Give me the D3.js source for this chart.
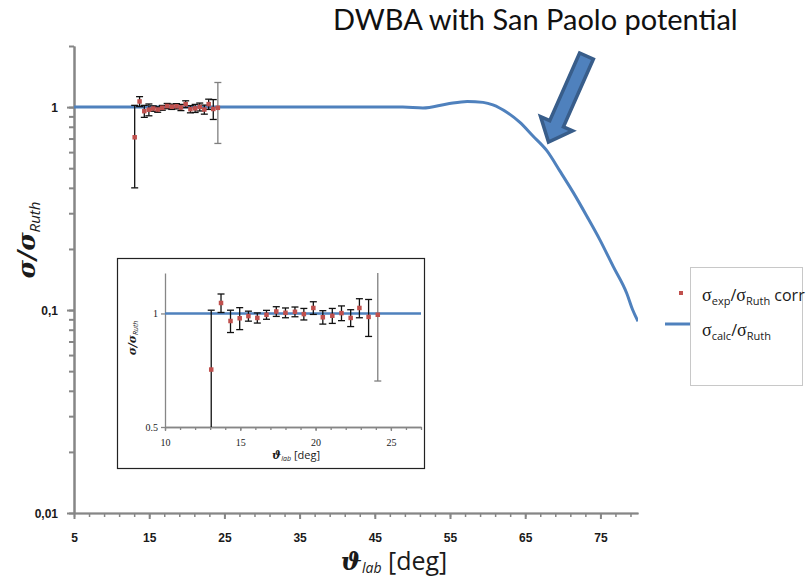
<!DOCTYPE html>
<html>
<head>
<meta charset="utf-8">
<script src="https://cdn.jsdelivr.net/npm/d3@7"></script>
<style>
  body { margin: 0; background: #fff; }
  svg { display: block; }
</style>
</head>
<body>
<svg id="chart" width="809" height="580"></svg>
<script>
// Measured cross-section ratio (lab angle in degrees, ratio, absolute error)
const expTheta = [13.07, 13.72, 14.35, 14.96, 15.54, 16.13, 16.74, 17.39, 18.0, 18.63, 19.22, 19.85, 20.48, 21.11, 21.72, 22.33, 22.91, 23.52, 24.13];
const expRatio = [0.71, 1.066, 0.955, 0.971, 0.984, 0.973, 0.992, 1.012, 1.004, 1.01, 0.996, 1.034, 0.977, 0.986, 1.002, 0.973, 1.034, 0.979, 0.992];
const expError = [0.31, 0.06, 0.065, 0.065, 0.03, 0.03, 0.027, 0.03, 0.03, 0.03, 0.035, 0.04, 0.04, 0.045, 0.045, 0.05, 0.06, 0.11, 0.33];

// DWBA calculation (San Paolo potential)
const calcTheta = [5, 10, 20, 30, 40, 43, 48.7, 51.4, 54.6, 57.3, 59.4, 60.7, 62.6, 64.3, 66.0, 67.9, 69.6, 71.4, 73.2, 74.9, 76.7, 78.5, 79.3, 80];
const calcRatio = [1, 1, 1, 1, 1, 1.0, 1.0, 0.989, 1.035, 1.067, 1.055, 1.026, 0.941, 0.84, 0.722, 0.608, 0.485, 0.379, 0.29, 0.223, 0.164, 0.121, 0.1, 0.088];

// Axis ticks and labels
const mainXTicks = [5, 15, 25, 35, 45, 55, 65, 75];
const mainYTicks = [0.01, 0.1, 1];
const mainYLabels = ["0,01", "0,1", "1"];
const insetXTicks = [10, 15, 20, 25];
const insetYTicks = [0.5, 1];
const insetYLabels = ["0.5", "1"];
const titleText = "DWBA with San Paolo potential";

const BLUE = "#4f81bd";
const RED = "#c0504d";
const AXIS = "#868686";

const svg = d3.select("#chart");
const expData = expTheta.map((t, i) => ({ t, r: expRatio[i], e: expError[i], last: i === expTheta.length - 1 }));
const calcData = calcTheta.map((t, i) => ({ t, r: calcRatio[i] }));

function minorLog(lo, hi) {
  const out = [];
  for (let p = Math.floor(Math.log10(lo)); p <= Math.ceil(Math.log10(hi)); p++) {
    for (let k = 1; k <= 9; k++) {
      const v = k * Math.pow(10, p);
      if (v >= lo * 0.999 && v <= hi * 1.001) out.push(v);
    }
  }
  return out;
}

function styleAxis(g, width) {
  g.select(".domain").attr("stroke", AXIS).attr("stroke-width", width);
  g.selectAll(".tick line").attr("stroke", AXIS).attr("stroke-width", width);
}

// ---------- main panel ----------
const x = d3.scaleLinear().domain([5, 80]).range([74, 638]);
const y = d3.scaleLog().domain([0.01, 2]).range([513, 46]);

svg.append("defs").append("clipPath").attr("id", "mainClip")
  .append("rect").attr("x", x(5)).attr("y", y(2)).attr("width", x(80) - x(5)).attr("height", y(0.01) - y(2));

// minor ticks
const yMinor = svg.append("g").attr("transform", `translate(${x(5)},0)`)
  .call(d3.axisLeft(y).tickValues(minorLog(0.01, 2)).tickSize(5).tickSizeOuter(0).tickFormat(""));
styleAxis(yMinor, 2);
const xMinorVals = d3.range(5, 80.01, 2);
const xMinor = svg.append("g").attr("transform", `translate(0,${y(0.01)})`)
  .call(d3.axisBottom(x).tickValues(xMinorVals).tickSize(4).tickSizeOuter(0).tickFormat(""));
styleAxis(xMinor, 1.5);

// major ticks with labels
const yAxis = svg.append("g").attr("transform", `translate(${x(5)},0)`)
  .call(d3.axisLeft(y).tickValues(mainYTicks).tickSize(7).tickSizeOuter(0)
    .tickFormat((d, i) => mainYLabels[i]));
styleAxis(yAxis, 2);
yAxis.selectAll(".tick text").attr("x", -16).attr("dy", "0.35em")
  .attr("font-family", "Liberation Sans, Arial, sans-serif").attr("font-size", 12)
  .attr("font-weight", "bold").attr("fill", "#1a1a1a");

const xAxis = svg.append("g").attr("transform", `translate(0,${y(0.01)})`)
  .call(d3.axisBottom(x).tickValues(mainXTicks).tickSize(6).tickSizeOuter(0));
styleAxis(xAxis, 2);
xAxis.selectAll(".tick text").attr("y", 20)
  .attr("font-family", "Liberation Sans, Arial, sans-serif").attr("font-size", 12)
  .attr("font-weight", "bold").attr("fill", "#1a1a1a");

// calculation curve
const line = d3.line().x(d => x(d.t)).y(d => y(d.r)).curve(d3.curveMonotoneX);
svg.append("path").datum(calcData).attr("clip-path", "url(#mainClip)")
  .attr("d", line).attr("fill", "none").attr("stroke", BLUE).attr("stroke-width", 3);

// error bars and points
function drawPoints(g, sx, sy, cap, size, clipId) {
  const eb = g.append("g").attr("clip-path", `url(#${clipId})`);
  const bars = eb.selectAll("g.eb").data(expData).join("g").attr("class", "eb")
    .attr("stroke", d => d.last ? "#7f7f7f" : "#111").attr("stroke-width", 1.3);
  bars.append("line").attr("x1", d => sx(d.t)).attr("x2", d => sx(d.t))
    .attr("y1", d => sy(Math.max(d.r - d.e, 1e-4))).attr("y2", d => sy(d.r + d.e));
  bars.append("line").attr("x1", d => sx(d.t) - cap).attr("x2", d => sx(d.t) + cap)
    .attr("y1", d => sy(d.r + d.e)).attr("y2", d => sy(d.r + d.e));
  bars.append("line").attr("x1", d => sx(d.t) - cap).attr("x2", d => sx(d.t) + cap)
    .attr("y1", d => sy(Math.max(d.r - d.e, 1e-4))).attr("y2", d => sy(Math.max(d.r - d.e, 1e-4)));
  g.append("g").selectAll("rect").data(expData).join("rect")
    .attr("x", d => sx(d.t) - size / 2).attr("y", d => sy(d.r) - size / 2)
    .attr("width", size).attr("height", size).attr("fill", RED);
}
drawPoints(svg.append("g"), x, y, 3.5, 4.5, "mainClip");

// axis titles
const xt = svg.append("text").attr("x", 394).attr("y", 570).attr("text-anchor", "middle")
  .attr("font-size", 25).attr("fill", "#1a1a1a");
xt.append("tspan").attr("font-family", "DejaVu Serif, serif").attr("font-style", "italic").attr("font-weight", "bold").text("ϑ");
xt.append("tspan").attr("font-family", "Open Sans, sans-serif").attr("font-style", "italic").attr("font-size", 14).attr("dy", 3).text("lab");
xt.append("tspan").attr("font-family", "Open Sans, sans-serif").attr("dy", -3).text(" [deg]");

const yt = svg.append("text").attr("transform", "translate(35,240) rotate(-90)").attr("text-anchor", "middle")
  .attr("font-size", 25).attr("fill", "#1a1a1a");
yt.append("tspan").attr("font-family", "DejaVu Serif, serif").attr("font-style", "italic").attr("font-weight", "bold").text("σ/σ");
yt.append("tspan").attr("font-family", "Open Sans, sans-serif").attr("font-style", "italic").attr("font-size", 15).attr("dy", 5).text("Ruth");

// ---------- inset ----------
const inset = svg.append("g");
inset.append("rect").attr("x", 117.5).attr("y", 258.5).attr("width", 307).attr("height", 210)
  .attr("fill", "#fff").attr("stroke", "#222").attr("stroke-width", 1.2);
const ix = d3.scaleLinear().domain([10, 27]).range([165, 421]);
const iy = d3.scaleLog().domain([0.5, 1.28]).range([427, 273]);
svg.select("defs").append("clipPath").attr("id", "insetClip")
  .append("rect").attr("x", ix(10)).attr("y", iy(1.28)).attr("width", ix(27) - ix(10)).attr("height", iy(0.5) - iy(1.28));

const ixMinor = inset.append("g").attr("transform", `translate(0,${iy(0.5)})`)
  .call(d3.axisBottom(ix).tickValues(d3.range(10, 27.01, 1)).tickSize(3).tickSizeOuter(0).tickFormat(""));
styleAxis(ixMinor, 1.3);
const ixAxis = inset.append("g").attr("transform", `translate(0,${iy(0.5)})`)
  .call(d3.axisBottom(ix).tickValues(insetXTicks).tickSize(4).tickSizeOuter(0));
styleAxis(ixAxis, 1.3);
ixAxis.selectAll(".tick text").attr("y", 12).attr("font-family", "Liberation Serif, serif")
  .attr("font-size", 10).attr("fill", "#1a1a1a");
const iyAxis = inset.append("g").attr("transform", `translate(${ix(10)},0)`)
  .call(d3.axisLeft(iy).tickValues(insetYTicks).tickSize(4).tickSizeOuter(0)
    .tickFormat((d, i) => insetYLabels[i]));
styleAxis(iyAxis, 1.3);
iyAxis.selectAll(".tick text").attr("x", -7).attr("font-family", "Liberation Serif, serif")
  .attr("font-size", 10).attr("fill", "#1a1a1a");

inset.append("path").datum(calcData).attr("clip-path", "url(#insetClip)")
  .attr("d", d3.line().x(d => ix(d.t)).y(d => iy(d.r))).attr("fill", "none")
  .attr("stroke", BLUE).attr("stroke-width", 2.5);
drawPoints(inset.append("g"), ix, iy, 3.5, 4.5, "insetClip");

const ixt = inset.append("text").attr("x", 296).attr("y", 459).attr("text-anchor", "middle")
  .attr("font-size", 11).attr("fill", "#1a1a1a");
ixt.append("tspan").attr("font-family", "DejaVu Serif, serif").attr("font-style", "italic").attr("font-weight", "bold").text("ϑ");
ixt.append("tspan").attr("font-family", "Open Sans, sans-serif").attr("font-style", "italic").attr("font-size", 7).attr("dy", 2).text("lab");
ixt.append("tspan").attr("font-family", "Open Sans, sans-serif").attr("dy", -2).text(" [deg]");
const iyt = inset.append("text").attr("transform", "translate(136,338) rotate(-90)").attr("text-anchor", "middle")
  .attr("font-size", 11).attr("fill", "#1a1a1a");
iyt.append("tspan").attr("font-family", "DejaVu Serif, serif").attr("font-style", "italic").attr("font-weight", "bold").text("σ/σ");
iyt.append("tspan").attr("font-family", "Open Sans, sans-serif").attr("font-style", "italic").attr("font-size", 7).attr("dy", 2).text("Ruth");

// ---------- legend ----------
const leg = svg.append("g");
leg.append("rect").attr("x", 690.5).attr("y", 267.5).attr("width", 112).attr("height", 118)
  .attr("fill", "#fff").attr("stroke", "#c8c8c8").attr("stroke-width", 1);
leg.append("rect").attr("x", 679).attr("y", 291).attr("width", 4).attr("height", 4).attr("fill", RED);
leg.append("line").attr("x1", 665).attr("x2", 690).attr("y1", 324).attr("y2", 324)
  .attr("stroke", BLUE).attr("stroke-width", 3);
function legendLabel(yPos, sub1, tail) {
  const t = leg.append("text").attr("x", 702).attr("y", yPos).attr("font-size", 16).attr("fill", "#1a1a1a");
  t.append("tspan").attr("font-family", "Liberation Serif, serif").attr("font-size", 18).text("σ");
  t.append("tspan").attr("font-family", "Open Sans, sans-serif").attr("font-size", 11).attr("dy", 4).text(sub1);
  t.append("tspan").attr("font-family", "Open Sans, sans-serif").attr("dy", -4).text("/");
  t.append("tspan").attr("font-family", "Liberation Serif, serif").attr("font-size", 18).text("σ");
  t.append("tspan").attr("font-family", "Open Sans, sans-serif").attr("font-size", 11).attr("dy", 4).text("Ruth");
  if (tail) t.append("tspan").attr("font-family", "Open Sans, sans-serif").attr("dy", -4).text(tail);
}
legendLabel(301, "exp", " corr");
legendLabel(336, "calc", null);

// ---------- title and arrow ----------
svg.append("text").attr("x", 333).attr("y", 30).attr("font-family", "Lato, sans-serif")
  .attr("font-size", 29).attr("fill", "#111").text(titleText);

// block arrow pointing at the falling part of the curve
const tail = [586.5, 56], tip = [548.5, 142];
const dx = tip[0] - tail[0], dy = tip[1] - tail[1];
const len = Math.hypot(dx, dy), ux = dx / len, uy = dy / len, px = -uy, py = ux;
const shaftHalf = 7.5, headHalf = 17.5, headLen = 20;
const bx = tip[0] - ux * headLen, by = tip[1] - uy * headLen;
const pts = [
  [tail[0] + px * shaftHalf, tail[1] + py * shaftHalf],
  [bx + px * shaftHalf, by + py * shaftHalf],
  [bx + px * headHalf, by + py * headHalf],
  tip,
  [bx - px * headHalf, by - py * headHalf],
  [bx - px * shaftHalf, by - py * shaftHalf],
  [tail[0] - px * shaftHalf, tail[1] - py * shaftHalf]
];
svg.append("path").attr("d", d3.line()(pts) + "Z").attr("fill", BLUE)
  .attr("stroke", "#385d8a").attr("stroke-width", 3.5).attr("stroke-linejoin", "miter");
</script>
</body>
</html>
